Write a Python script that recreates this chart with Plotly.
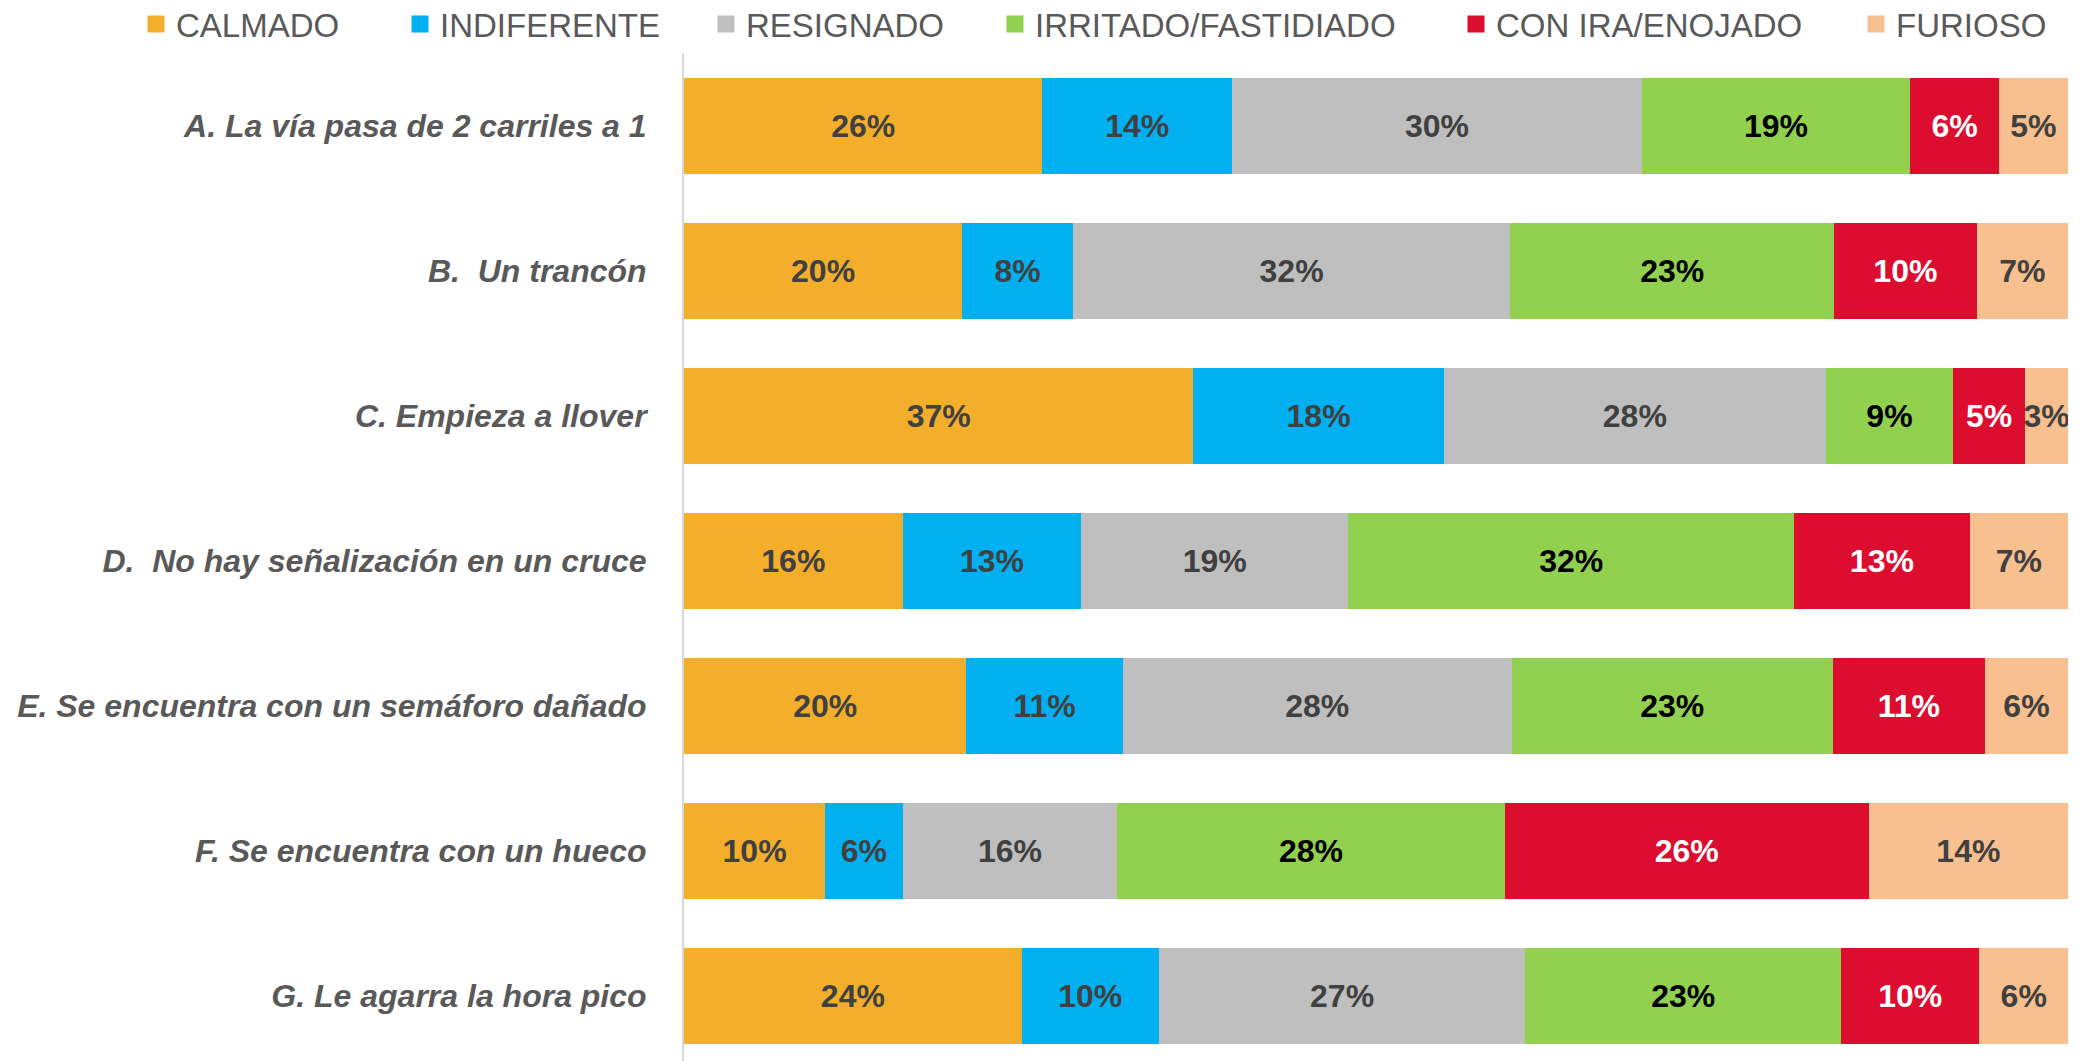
import plotly.graph_objects as go

categories = [
    "A. La vía pasa de 2 carriles a 1",
    "B.  Un trancón",
    "C. Empieza a llover",
    "D.  No hay señalización en un cruce",
    "E. Se encuentra con un semáforo dañado",
    "F. Se encuentra con un hueco",
    "G. Le agarra la hora pico",
]

series_names = ["CALMADO", "INDIFERENTE", "RESIGNADO", "IRRITADO/FASTIDIADO", "CON IRA/ENOJADO", "FURIOSO"]

calmado = [25.9, 20.1, 36.8, 15.8, 20.4, 10.2, 24.4]
indiferente = [13.7, 8.0, 18.1, 12.9, 11.3, 5.6, 9.9]
resignado = [29.6, 31.6, 27.6, 19.3, 28.1, 15.5, 26.5]
irritado = [19.4, 23.4, 9.2, 32.2, 23.2, 28.0, 22.8]
con_ira = [6.4, 10.3, 5.2, 12.7, 11.0, 26.3, 10.0]
furioso = [5.0, 6.6, 3.1, 7.1, 6.0, 14.4, 6.4]

series_values = [calmado, indiferente, resignado, irritado, con_ira, furioso]
colors = ["#F3AF2C", "#00B0F0", "#BFBFBF", "#92D050", "#DC0D2F", "#F9C08F"]
text_colors = ["#404040", "#404040", "#404040", "#000000", "#FFFFFF", "#404040"]
legend_widths = [219, 261, 244, 416, 355, 180]

FONT = "Liberation Sans, Arial, sans-serif"

# page body has an 8px margin: figure is sized/positioned to compensate
W, H = 2072, 1053
L, R, T, B = 676, 12, 45, 0
PW = W - L - R
PH = H - T - B

fig = go.Figure()
for name, vals, col, tcol in zip(series_names, series_values, colors, text_colors):
    fig.add_trace(go.Bar(
        name=name,
        y=categories,
        x=vals,
        orientation="h",
        marker=dict(color=col, line=dict(width=0)),
        texttemplate="%{x:.0f}%",
        textposition="inside",
        insidetextanchor="middle",
        textangle=0,
        textfont=dict(family=FONT, size=32, color=tcol, weight="bold"),
        showlegend=False,
        hoverinfo="x+y+name",
    ))

# legend-only entries (larger legend squares)
for name, col, lw in zip(series_names, colors, legend_widths):
    fig.add_trace(go.Bar(
        name=name,
        y=[None],
        x=[None],
        orientation="h",
        marker=dict(color=col, line=dict(width=5, color=col)),
        legendwidth=lw,
        showlegend=True,
        hoverinfo="skip",
    ))

fig.update_layout(
    width=W,
    height=H,
    barmode="stack",
    bargap=0.338,
    plot_bgcolor="white",
    paper_bgcolor="white",
    margin=dict(l=L, r=R, t=T, b=B, autoexpand=False),
    uniformtext=dict(minsize=32, mode="show"),
    legend=dict(
        orientation="h",
        x=(128 - L) / PW,
        xanchor="left",
        y=1 + (T - 16) / PH,
        yanchor="middle",
        font=dict(family=FONT, size=33, color="#595959"),
        traceorder="normal",
        bgcolor="rgba(0,0,0,0)",
    ),
    xaxis=dict(range=[0, 100], visible=False, fixedrange=True),
    yaxis=dict(
        categoryorder="array",
        categoryarray=categories,
        range=[6.447, -0.5],
        showgrid=False,
        zeroline=False,
        showline=True,
        linecolor="#D9D9D9",
        linewidth=2,
        ticks="",
        ticklabelstandoff=29,
        tickfont=dict(family=FONT, size=32, color="#595959", weight="bold", style="italic"),
    ),
    showlegend=True,
)

fig.write_html("out.html")
